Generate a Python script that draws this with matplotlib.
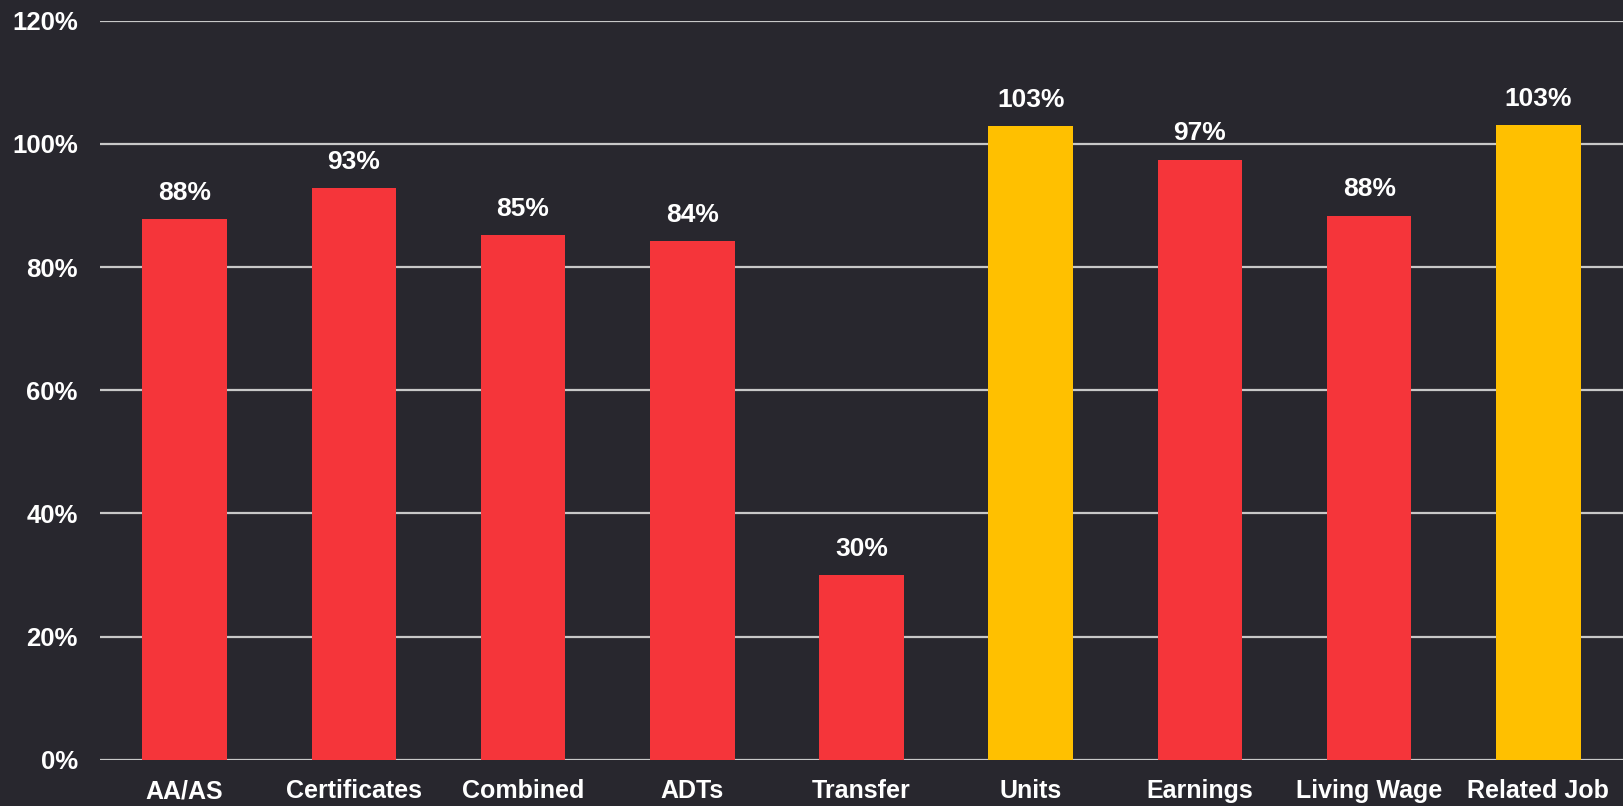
import matplotlib
matplotlib.use("Agg")
import matplotlib.pyplot as plt
from matplotlib.ticker import FuncFormatter

categories = ["AA/AS", "Certificates", "Combined", "ADTs", "Transfer",
              "Units", "Earnings", "Living Wage", "Related Job"]
values = [87.8, 92.8, 85.2, 84.2, 30.0, 102.9, 97.4, 88.3, 103.0]
labels = ["88%", "93%", "85%", "84%", "30%", "103%", "97%", "88%", "103%"]
highlight = [False, False, False, False, False, True, False, False, True]

BG = "#28272e"
RED = "#f5353a"
YEL = "#ffc000"

plt.rcParams['font.family'] = ['Liberation Sans', 'DejaVu Sans']

fig = plt.figure(figsize=(16.23, 8.06), dpi=100, facecolor=BG)
ax = fig.add_axes([100/1623, 1 - 759.7/806, 1523/1623, (759.7 - 20.7)/806])
ax.set_facecolor(BG)

colors = [YEL if h else RED for h in highlight]
x = list(range(len(categories)))
bars = ax.bar(x, values, width=0.5, color=colors, zorder=3)

ax.set_xlim(-0.5, len(categories) - 0.5)
ax.set_ylim(0, 120)
ax.set_yticks(range(0, 121, 20))
ax.yaxis.set_major_formatter(FuncFormatter(lambda v, p: f"{int(v)}%"))
ax.grid(axis='y', color='#c8c8c8', linewidth=1.6, zorder=0)
ax.set_axisbelow(True)
for s in ax.spines.values():
    s.set_visible(False)
ax.tick_params(axis='both', length=0, colors='white')
ax.tick_params(axis='y', pad=16)
ax.tick_params(axis='x', pad=14)
ax.set_xticks(x)
ax.set_xticklabels(categories, fontsize=18, fontweight='bold', color='white')
for t in ax.get_yticklabels():
    t.set_fontsize(18.5)
    t.set_fontweight('bold')
    t.set_color('white')

for xi, v, lab in zip(x, values, labels):
    ax.annotate(lab, (xi, v), xytext=(0, 14), textcoords='offset points',
                ha='center', va='baseline', fontsize=19, fontweight='bold',
                color='white', family=['Liberation Sans Narrow', 'Liberation Sans'])

fig.savefig("out.png", dpi=100, facecolor=BG)
